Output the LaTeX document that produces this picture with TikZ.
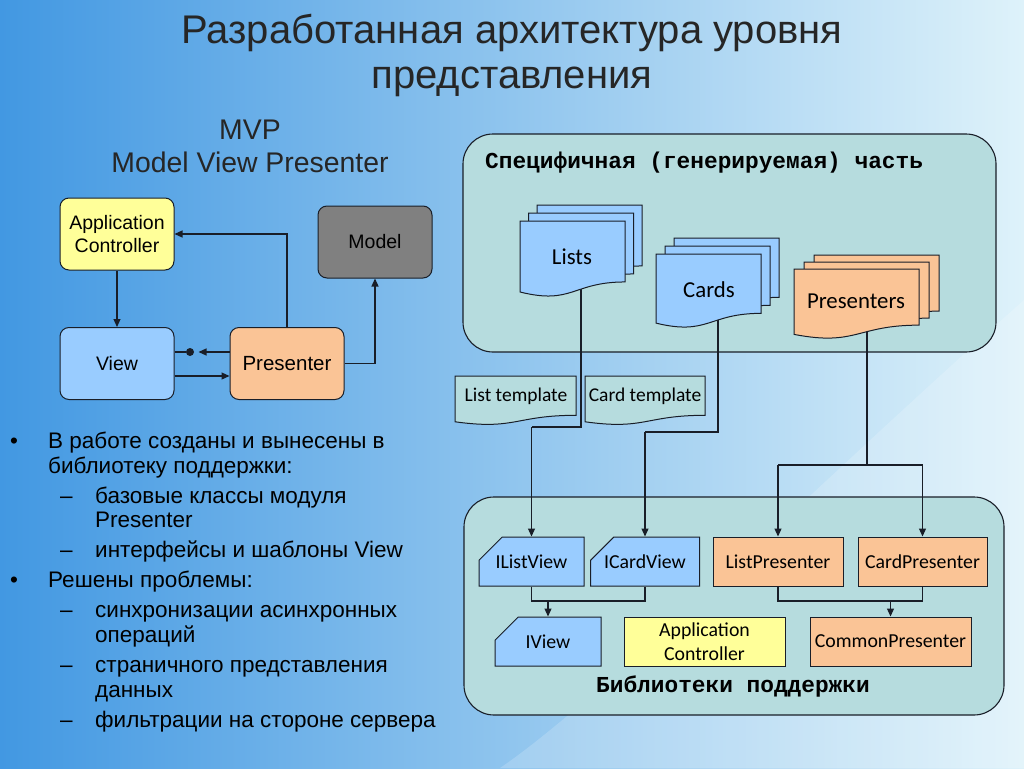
\documentclass[tikz,border=0pt]{standalone}
\usepackage{fontspec}
\setmainfont{Liberation Sans}
\newfontfamily\calfont{Carlito}
\newfontfamily\cmono{Liberation Mono}
\usetikzlibrary{arrows.meta,shapes.misc,calc}
\definecolor{bgL}{RGB}{66,152,226}
\definecolor{bgM}{RGB}{135,204,242}
\definecolor{bgR}{RGB}{222,242,250}
\definecolor{cont}{RGB}{182,220,222}
\definecolor{lblue}{RGB}{153,204,255}
\definecolor{lorange}{RGB}{250,196,150}
\definecolor{lyellow}{RGB}{255,255,153}
\definecolor{mgray}{RGB}{128,128,128}
\definecolor{ln}{RGB}{25,30,40}
\newcommand\docshape[5]{%
  \path[#1] (#2,#3) -- (#4,#3) -- (#4,{#3+0.802*#5})
    .. controls ({(#2+#4)/2},{#3+0.802*#5}) and ({(#2+#4)/2},{#3+1.107*#5}) .. (#2,{#3+0.934*#5}) -- cycle;}
\tikzset{
  arr/.style={draw=ln, line width=1.2pt, -{Triangle[length=8pt,width=7pt]}},
  cn/.style={draw=ln, line width=1.2pt},
  mvpbox/.style={rounded corners=9pt, draw=ln, line width=1pt, minimum width=114pt, minimum height=72pt, align=center, font=\fontsize{19.5}{23}\selectfont},
  libbox/.style={draw=ln, line width=1pt, minimum height=49pt, align=center, font=\calfont\fontsize{19.8}{23}\selectfont},
  snip/.style={libbox, chamfered rectangle, chamfered rectangle corners=north west, chamfered rectangle xsep=18pt, chamfered rectangle ysep=13pt, fill=lblue},
  doctxt/.style={font=\calfont\fontsize{22.8}{26}\selectfont},
  tpltxt/.style={font=\calfont\fontsize{19.5}{22}\selectfont},
  bodytxt/.style={anchor=base west, font=\fontsize{22.5}{26}\selectfont, inner sep=0pt},
  monotxt/.style={font=\cmono\bfseries\fontsize{22.8}{26}\selectfont, inner sep=0pt},
  cbox/.style={draw=ln, line width=1.1pt, fill=cont, rounded corners=30pt},
  docb/.style={draw=ln, line width=1pt, fill=lblue},
  doco/.style={draw=ln, line width=1pt, fill=lorange},
  doct/.style={draw=ln, line width=1pt, fill=cont},
}
\begin{document}
\begin{tikzpicture}[x=1pt,y=-1pt]
\useasboundingbox (0,0) rectangle (1024,768);
\shade[left color=bgL, middle color=bgM, right color=bgR, shading angle=90] (0,0) rectangle (1024,768);
\fill[white, opacity=0.18] (1024,768) -- (1024,300) .. controls (800,500) and (600,700) .. (500,768) -- cycle;

% title
\node[font=\fontsize{40}{45}\selectfont, align=center, text=black!85] (title) at (512,55) {Разработанная архитектура уровня\\представления};
\node[font=\fontsize{28.4}{33}\selectfont, align=center, text=black!85] (mvp) at (250,146) {MVP\\Model View Presenter};

% MVP diagram
\node[mvpbox, fill=lyellow] (ac) at (117,234) {Application\\Controller};
\node[mvpbox, fill=mgray] (model) at (375,242) {Model};
\node[mvpbox, fill=lblue] (view) at (117,363.5) {View};
\node[mvpbox, fill=lorange, font=\fontsize{20.5}{23}\selectfont] (pres) at (287,363.5) {Presenter};
\draw[arr] (ac.south) -- (view.north);
\draw[arr] (pres.north) |- (ac.east);
\draw[arr] (pres.east) -| (model.south);
\draw[arr] ([yshift=-12.5pt]view.east) -- ([yshift=-12.5pt]pres.west);
\draw[arr] ([yshift=11.5pt]pres.west) -- ++(-31,0);
\node[circle, fill=ln, inner sep=0pt, minimum size=8pt] (dot) at (190,352) {};
\draw[cn] ([yshift=11.5pt]view.east) -- (dot);

% bullets
\node[bodytxt] (d1) at (10,448) {•};
\node[bodytxt] (t1) at (48,448) {В работе созданы и вынесены в};
\node[bodytxt] (t2) at (48,473) {библиотеку поддержки:};
\node[bodytxt] (d2) at (60,503) {–};
\node[bodytxt] (t3) at (95,503) {базовые классы модуля};
\node[bodytxt] (t4) at (95,527) {Presenter};
\node[bodytxt] (d3) at (60,557) {–};
\node[bodytxt] (t5) at (95,557) {интерфейсы и шаблоны View};
\node[bodytxt] (d4) at (10,587) {•};
\node[bodytxt] (t6) at (48,587) {Решены проблемы:};
\node[bodytxt] (d5) at (60,617) {–};
\node[bodytxt] (t7) at (95,617) {синхронизации асинхронных};
\node[bodytxt] (t8) at (95,642) {операций};
\node[bodytxt] (d6) at (60,672) {–};
\node[bodytxt] (t9) at (95,672) {страничного представления};
\node[bodytxt] (t10) at (95,697) {данных};
\node[bodytxt] (d7) at (60,727) {–};
\node[bodytxt] (t11) at (95,727) {фильтрации на стороне сервера};

% containers
\draw[cbox] (463,134) rectangle (996,352);
\draw[cbox] (464,497) rectangle (1004,715);
\node[monotxt, anchor=west] (spec) at (485,163) {Специфичная (генерируемая) часть};
\node[monotxt] (libs) at (733,686) {Библиотеки поддержки};

% library nodes
\node[snip, minimum width=105pt] (ilv) at (531.5,561.5) {IListView};
\node[snip, minimum width=104pt] (icv) at (645,561.5) {ICardView};
\node[libbox, fill=lorange, minimum width=130pt] (lp) at (778,561.5) {ListPresenter};
\node[libbox, fill=lorange, minimum width=129pt] (cp) at (922.5,561.5) {CardPresenter};
\node[snip, minimum width=106pt] (iview) at (548,641.5) {IView};
\node[libbox, fill=lyellow, minimum width=161pt, font=\calfont\fontsize{19.8}{24}\selectfont] (libac) at (704.5,641.5) {Application\\Controller};
\node[libbox, fill=lorange, minimum width=161pt] (common) at (890.5,641.5) {CommonPresenter};

% connector anchors
\coordinate (lists-c) at (581,262);
\coordinate (cards-c) at (718,295);
\coordinate (pres-c) at (867,305);
\coordinate (ylist) at (0,427);
\coordinate (ycard) at (0,432);
\coordinate (ypres) at (0,465);
\coordinate (yj) at (0,601);

\draw[cn] (lists-c) -- (lists-c |- ylist) -- (ilv.north |- ylist);
\draw[arr] (ilv.north |- ylist) -- (ilv.north);
\draw[cn] (cards-c) -- (cards-c |- ycard) -- (icv.north |- ycard);
\draw[arr] (icv.north |- ycard) -- (icv.north);
\draw[cn] (pres-c) -- (pres-c |- ypres);
\draw[cn] (lp.north |- ypres) -- (cp.north |- ypres);
\draw[arr] (lp.north |- ypres) -- (lp.north);
\draw[arr] (cp.north |- ypres) -- (cp.north);
\draw[cn] (ilv.south) -- (ilv.south |- yj) -- (icv.south |- yj) -- (icv.south);
\draw[arr] (iview.north |- yj) -- (iview.north);
\draw[cn] (lp.south) -- (lp.south |- yj) -- (cp.south |- yj) -- (cp.south);
\draw[arr] (common.north |- yj) -- (common.north);

% documents
\docshape{docb}{537}{205}{642}{76}
\docshape{docb}{528.5}{213}{633.5}{76}
\docshape{docb}{520}{221}{625}{76}
\node[doctxt] (lists) at (572,257) {Lists};
\docshape{docb}{674}{238}{779}{74}
\docshape{docb}{665}{246}{770}{74}
\docshape{docb}{656}{254}{761}{74}
\node[doctxt] (cards) at (709,290) {Cards};
\docshape{doco}{814}{255}{939}{70}
\docshape{doco}{804}{262}{929}{70}
\docshape{doco}{794}{269}{919}{70}
\node[doctxt] (presenters) at (856,301) {Presenters};
\docshape{doct}{455}{376}{576}{49}
\node[tpltxt] (ltpl) at (516,396) {List template};
\docshape{doct}{585}{376}{705}{49}
\node[tpltxt] (ctpl) at (645,396) {Card template};
\end{tikzpicture}
\end{document}
